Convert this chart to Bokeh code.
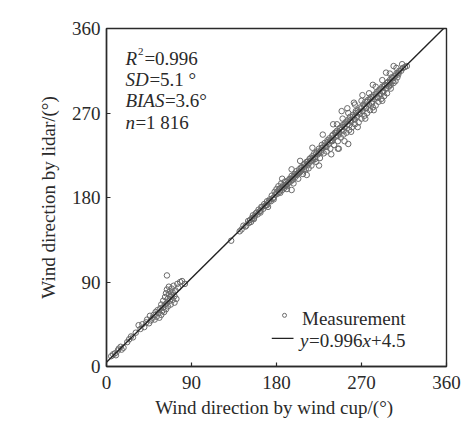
from bokeh.plotting import figure
from bokeh.models import FixedTicker, Label, ColumnDataSource
from bokeh.embed import file_html
from bokeh.resources import INLINE

# ---------------- data ----------------
x_ticks = [0, 90, 180, 270, 360]

low_points = [(5, 11), (7, 13), (9, 14), (10, 12), (12, 17), (13, 19), (15, 21), (16, 18),
              (18, 20), (22, 26), (24, 29), (26, 32), (28, 31), (31, 36), (34, 44), (36, 40),
              (38, 45), (40, 42), (42, 47), (43, 50), (45, 46), (46, 54), (47, 49), (49, 52),
              (50, 55), (51, 50), (52, 58), (53, 53), (54, 60), (55, 57), (56, 52), (57, 62),
              (58, 55), (58, 66), (59, 59), (60, 63), (60, 70), (61, 58), (62, 66), (62, 74),
              (63, 61), (63, 78), (64, 68), (64, 82), (65, 72), (65, 64), (66, 77), (66, 85),
              (67, 70), (67, 80), (68, 74), (68, 66), (69, 83), (69, 76), (70, 71), (70, 79),
              (71, 86), (72, 68), (72, 75), (73, 81), (74, 72), (75, 88), (76, 84), (78, 90),
              (80, 91), (83, 88), (64, 97)]

main_points = [(132, 134), (141, 144), (145, 150), (147, 149), (150, 155), (152, 156), (153, 154),
               (155, 161), (156, 158), (158, 163), (160, 162), (161, 167), (163, 166), (164, 170),
               (166, 168), (167, 173), (169, 172), (170, 176), (171, 170), (173, 178), (174, 176),
               (175, 182), (177, 180), (178, 186), (179, 183), (180, 189), (181, 184), (182, 192),
               (183, 186), (184, 190), (185, 195), (186, 188), (187, 193), (188, 190), (189, 197),
               (190, 193), (191, 189), (192, 198), (193, 196), (194, 200), (195, 197), (196, 203),
               (197, 199), (198, 195), (199, 205), (200, 202), (201, 208), (202, 204), (203, 200),
               (204, 210), (205, 207), (206, 212), (207, 209), (208, 205), (209, 215), (210, 213),
               (211, 210), (212, 218), (213, 215), (214, 211), (215, 221), (216, 219), (217, 214),
               (218, 224), (219, 220), (220, 227), (221, 223), (222, 218), (223, 229), (224, 226),
               (225, 232), (226, 222), (227, 230), (228, 236), (229, 233), (230, 227), (231, 238),
               (232, 234), (233, 229), (234, 241), (235, 237), (236, 243), (237, 232), (238, 240),
               (239, 246), (240, 243), (241, 236), (242, 249), (243, 245), (244, 251), (245, 240),
               (246, 232), (246, 248), (247, 254), (248, 244), (249, 252), (250, 257), (251, 247),
               (252, 255), (253, 260), (254, 249), (255, 258), (256, 263), (257, 252), (258, 266),
               (259, 261), (260, 255), (261, 268), (262, 264), (263, 258), (264, 270), (265, 266),
               (266, 273), (267, 260), (268, 269), (269, 276), (270, 264), (271, 272), (272, 279),
               (273, 267), (274, 282), (275, 275), (276, 270), (277, 284), (278, 279), (279, 273),
               (280, 287), (281, 282), (282, 276), (283, 289), (284, 285), (285, 278), (286, 292),
               (287, 287), (288, 282), (289, 295), (290, 290), (291, 285), (292, 298), (293, 293),
               (294, 288), (295, 300), (296, 296), (297, 291), (298, 303), (299, 299), (300, 305),
               (301, 300), (302, 308), (303, 304), (305, 309), (306, 304), (307, 312), (309, 311),
               (310, 315), (312, 315), (314, 318), (316, 319), (318, 320)]

core_points = [(151, 153), (154, 158), (157, 160), (159, 164), (162, 165), (165, 170), (168, 171),
               (172, 176), (176, 179), (180, 185), (183, 189), (186, 191), (189, 193), (192, 195),
               (195, 200), (198, 202), (201, 205), (204, 207), (207, 212), (210, 216), (213, 218),
               (216, 222), (219, 222), (222, 227), (225, 228), (228, 233), (231, 235), (234, 239),
               (237, 241), (240, 247), (243, 249), (246, 250), (249, 255), (252, 258), (255, 261),
               (258, 262), (261, 266), (264, 272), (267, 271), (270, 275), (273, 277), (276, 282),
               (279, 285), (282, 287), (285, 290), (288, 293), (291, 296), (294, 299), (297, 302),
               (300, 302), (303, 307), (306, 310), (309, 313),
               (143, 146), (148, 150), (156, 157), (163, 164), (170, 172), (177, 178), (184, 185),
               (191, 192), (197, 199), (203, 206), (209, 210), (215, 217), (221, 221), (227, 228),
               (233, 234), (239, 240), (245, 246), (251, 251), (257, 257), (263, 263), (269, 270),
               (275, 276), (281, 280), (287, 286), (293, 292), (299, 298), (304, 302), (308, 308)]

spread_points = [(186, 200), (196, 210), (205, 219), (218, 233), (229, 247), (240, 258), (249, 272),
                 (255, 275), (262, 281), (271, 289), (282, 300), (296, 313), (304, 320),
                 (244, 258), (250, 264), (256, 270), (263, 279), (270, 283), (278, 291), (285, 298),
                 (292, 305), (300, 312), (307, 318), (313, 322),
                 (196, 188), (212, 204), (225, 214), (238, 226), (245, 232), (252, 240), (256, 237),
                 (259, 250), (266, 255), (274, 264), (283, 273), (292, 283), (301, 296)]

all_points = low_points + main_points + core_points + spread_points
meas_x = [pt[0] for pt in all_points]
meas_y = [pt[1] for pt in all_points]

fit_slope = 0.996
fit_intercept = 4.5
fit_x = [0, 360]
fit_y = [fit_slope * v + fit_intercept for v in fit_x]

r2_text = "0.996"
sd_text = "5.1 °"
bias_text = "3.6°"
n_text = "1 816"
legend_labels = ["Measurement"]

# ---------------- styling ----------------
FONT = "Liberation Serif"
FS = "19px"
INK = "#2a2a2a"
MARK = "#6a6a6a"

p = figure(width=464, height=422, x_range=(0, 360), y_range=(0, 360),
           output_backend="svg", toolbar_location=None,
           min_border_left=106, min_border_right=18, min_border_top=28, min_border_bottom=56,
           background_fill_color="white", border_fill_color="white")

p.grid.visible = False
p.outline_line_color = INK
p.outline_line_width = 1.4

for ax in (p.xaxis[0], p.yaxis[0]):
    ax.ticker = FixedTicker(ticks=x_ticks)
    ax.axis_line_color = INK
    ax.axis_line_width = 1.4
    ax.major_tick_line_color = INK
    ax.major_tick_line_width = 1.2
    ax.major_tick_in = 4
    ax.major_tick_out = 0
    ax.minor_tick_line_color = None
    ax.major_label_text_font = FONT
    ax.major_label_text_font_size = FS
    ax.major_label_text_color = INK
    ax.axis_label_text_font = FONT
    ax.axis_label_text_font_size = FS
    ax.axis_label_text_font_style = "normal"
    ax.axis_label_text_color = INK

p.xaxis.axis_label = "Wind direction  by wind cup/(°)"
p.yaxis.axis_label = "Wind direction by lidar/(°)"
p.xaxis.major_label_standoff = 9
p.xaxis.axis_label_standoff = 5
p.yaxis.major_label_standoff = 6
p.yaxis.axis_label_standoff = 10

src = ColumnDataSource(dict(x=meas_x, y=meas_y))
p.scatter("x", "y", source=src, marker="circle", size=5.5,
          fill_color=None, line_color=MARK, line_width=1.0)
p.line(fit_x, fit_y, line_color="#222222", line_width=1.4)


def add_piece(x, y, dx, text, italic=False, size=FS, dy=0):
    p.add_layout(Label(x=x, y=y, x_offset=dx, y_offset=dy, text=text,
                       text_font=FONT, text_font_size=size,
                       text_font_style="italic" if italic else "normal",
                       text_color=INK, text_baseline="alphabetic", text_align="left"))


# statistics block (anchor positions in data units)
ax0 = 20
add_piece(ax0, 328, 0, "R", True)
add_piece(ax0, 328, 12.5, "2", False, "11px", 7)
add_piece(ax0, 328, 19, "=" + r2_text)
add_piece(ax0, 305.5, 0, "SD", True)
add_piece(ax0, 305.5, 24, "=" + sd_text)
add_piece(ax0, 283, 0, "BIAS", True)
add_piece(ax0, 283, 39.5, "=" + bias_text)
add_piece(ax0, 259.5, 0, "n", True)
add_piece(ax0, 259.5, 10, "=" + n_text)

# hand-built legend (swatches + texts), anchored in data units
p.scatter(x=[188.5], y=[54.5], marker="circle", size=4, fill_color=None,
          line_color=MARK, line_width=1.0)
p.segment(x0=[175], y0=[30], x1=[198], y1=[30], line_color="#222222", line_width=1.4)
add_piece(207, 51.5, 0, legend_labels[0])
ex0, ey0 = 205, 28
add_piece(ex0, ey0, 0, "y", True)
add_piece(ex0, ey0, 9, "=%.3f" % fit_slope)
add_piece(ex0, ey0, 62.5, "x", True)
add_piece(ex0, ey0, 71, "+%.1f" % fit_intercept)

open("out.html", "w").write(file_html(p, INLINE))
